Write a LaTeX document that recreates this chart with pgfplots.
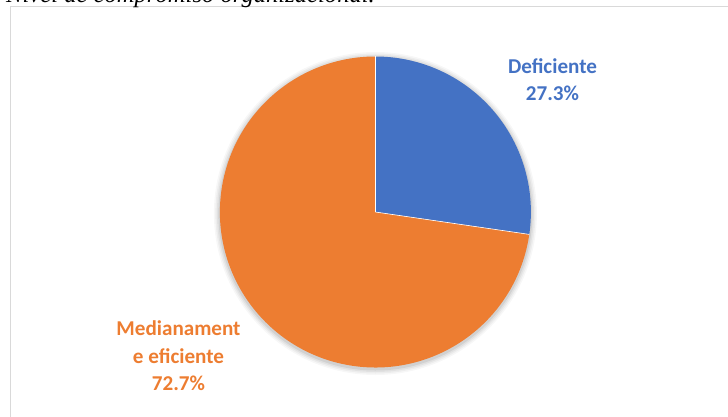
\documentclass[border=0pt]{standalone}
\usepackage{pgfplots}
\pgfplotsset{compat=1.18}
\usepackage{pgfplotstable}
\usepackage{fontspec}
\setmainfont{Carlito}
\newfontfamily\titlefont{Liberation Serif}
\definecolor{pieblue}{HTML}{4472C4}
\definecolor{pieorange}{HTML}{ED7D31}
\definecolor{framegray}{HTML}{D9D9D9}
\pgfplotstableread{
label value
Deficiente 27.3
Medianamente 72.7
}\piedata
\begin{document}
\begin{tikzpicture}
\pgfplotstablegetelem{0}{value}\of\piedata \pgfmathsetmacro\va{\pgfplotsretval}
\pgfplotstablegetelem{1}{value}\of\piedata \pgfmathsetmacro\vb{\pgfplotsretval}
\pgfmathsetmacro\angA{90-3.6*\va}
\pgfmathsetmacro\angB{\angA-3.6*\vb}
\begin{axis}[x=1bp,y=1bp,xmin=0,xmax=728,ymin=0,ymax=416,hide axis,clip=false]
% frame
\draw[framegray,line width=1.5bp] (axis cs:10.5,-5) -- (axis cs:10.5,409.5) -- (axis cs:735,409.5);
% title (cut at top)
\node[anchor=base west,inner sep=0pt,font=\titlefont\itshape\fontsize{24.7}{28}\selectfont] at (axis cs:6,413.2) {Nivel de compromiso organizacional.};
% soft shadow
\fill[black,opacity=0.03] (axis cs:375.4,202.5) circle[radius=161.5bp];
\fill[black,opacity=0.04] (axis cs:375.4,202.5) circle[radius=160bp];
\fill[black,opacity=0.05] (axis cs:375.4,202.5) circle[radius=158.5bp];
\fill[black,opacity=0.07] (axis cs:375.4,202.5) circle[radius=157bp];
% slices
\fill[pieblue] (axis cs:375.4,204) -- ++(90:155.5bp) arc[start angle=90,end angle=\angA,radius=155.5bp] -- cycle;
\fill[pieorange] (axis cs:375.4,204) -- ++(\angA:155.5bp) arc[start angle=\angA,end angle=\angB,radius=155.5bp] -- cycle;
\draw[white,line width=0.6bp] (axis cs:375.4,204) -- ++(90:155.5bp);
\draw[white,line width=0.6bp] (axis cs:375.4,204) -- ++(\angA:155.5bp);
% labels
\node[pieblue,anchor=base,inner sep=0pt,font=\bfseries\fontsize{21.2}{24}\selectfont] at (axis cs:552.5,342.7) {Deficiente};
\node[pieblue,anchor=base,inner sep=0pt,font=\bfseries\fontsize{21.2}{24}\selectfont] at (axis cs:552.5,315.3) {27.3\%};
\node[pieorange,anchor=base,inner sep=0pt,font=\bfseries\fontsize{21.2}{24}\selectfont] at (axis cs:178.5,81) {Medianament};
\node[pieorange,anchor=base,inner sep=0pt,font=\bfseries\fontsize{21.2}{24}\selectfont] at (axis cs:178.5,53) {e eficiente};
\node[pieorange,anchor=base,inner sep=0pt,font=\bfseries\fontsize{21.2}{24}\selectfont] at (axis cs:178.5,25.3) {72.7\%};
\end{axis}
\pgfresetboundingbox
\useasboundingbox (current axis.south west) rectangle (current axis.north east);
\end{tikzpicture}
\end{document}
